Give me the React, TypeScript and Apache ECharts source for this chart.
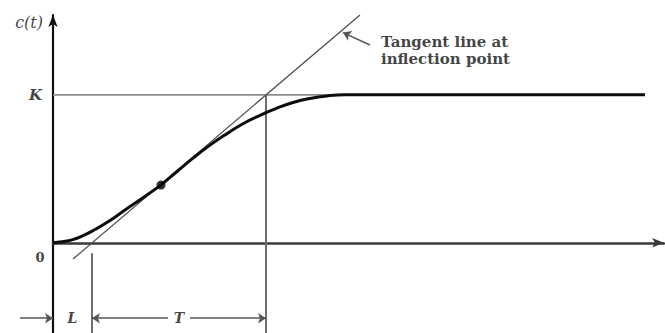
import React, { useEffect, useRef } from "react";
import * as echarts from "echarts";

// Step response c(t) of a process with an S-shaped reaction curve
const K = 1;
const L = 3.9; // dead time
const T = 17.4; // time constant

const timeValues = [0, 0.9, 1.9, 3.0, 4.2, 5.7, 7.2, 9.0, 10.7, 12.4, 14.0, 15.7, 17.4, 19.0, 20.7, 22.4, 24.0, 25.7, 27.4, 29.2, 59.2];
const responseValues = [0, 0.007, 0.02, 0.048, 0.09, 0.15, 0.222, 0.305, 0.386, 0.482, 0.572, 0.66, 0.738, 0.805, 0.862, 0.91, 0.948, 0.976, 0.993, 1.0, 1.0];

const inflectionPoint = [10.8, 0.39];
const tangentStart = [2.0, -0.11];
const tangentEnd = [30.7, 1.54];

const X_MIN = 0;
const X_MAX = 61.1;
const Y_MIN = -0.61;
const Y_MAX = 1.54;
const DIM_Y = -0.51; // level of the L / T dimension row

const SERIF = "DejaVu Serif";

export default function App() {
  const ref = useRef<HTMLDivElement>(null);

  useEffect(() => {
    document.body.style.margin = "0";
    if (!ref.current) return;
    const chart = echarts.init(ref.current, null, { renderer: "svg" });

    const curve = timeValues.map((t, i) => [t, responseValues[i]]);
    const tMid = L + T / 2;

    const textItem = (value: number[], text: string, label: any) => ({
      value,
      label: { show: true, formatter: text, color: "#111", fontFamily: SERIF, ...label },
    });

    chart.setOption({
      animation: false,
      backgroundColor: "#ffffff",
      textStyle: { fontFamily: SERIF },
      grid: { left: 53, top: 15, width: 611, height: 318 },
      xAxis: {
        type: "value",
        min: X_MIN,
        max: X_MAX,
        axisLine: {
          show: true,
          onZero: true,
          symbol: ["none", "arrow"],
          symbolSize: [7, 12],
          lineStyle: { color: "#3a3a3a", width: 2.5 },
        },
        axisTick: { show: false },
        axisLabel: { show: false },
        splitLine: { show: false },
      },
      yAxis: {
        type: "value",
        min: Y_MIN,
        max: Y_MAX,
        axisLine: {
          show: true,
          onZero: true,
          symbol: ["none", "arrow"],
          symbolSize: [7, 12],
          lineStyle: { color: "#111", width: 2.2 },
        },
        axisTick: { show: false },
        axisLabel: { show: false },
        splitLine: { show: false },
      },
      series: [
        {
          name: "K level",
          type: "line",
          data: [
            [0, K],
            [timeValues[timeValues.length - 1], K],
          ],
          symbol: "none",
          lineStyle: { color: "#8c8c8c", width: 1.6 },
          z: 1,
        },
        {
          name: "guides",
          type: "lines",
          coordinateSystem: "cartesian2d",
          clip: false,
          symbol: "none",
          lineStyle: { color: "#6e6e6e", width: 2, opacity: 1 },
          data: [
            { coords: [[L, -0.07], [L, Y_MIN]] },
            { coords: [[L + T, K], [L + T, Y_MIN]] },
          ],
          z: 1,
        },
        {
          name: "tangent",
          type: "line",
          data: [tangentStart, tangentEnd],
          symbol: "none",
          lineStyle: { color: "#4a4a4a", width: 1.2 },
          z: 2,
        },
        {
          name: "c(t)",
          type: "line",
          data: curve,
          smooth: 0.5,
          symbol: "none",
          lineStyle: { color: "#0d0d0d", width: 3 },
          z: 3,
        },
        {
          name: "inflection",
          type: "scatter",
          data: [inflectionPoint],
          symbol: "circle",
          symbolSize: 9,
          itemStyle: { color: "#000" },
          z: 4,
        },
        {
          name: "dimension arrows",
          type: "lines",
          coordinateSystem: "cartesian2d",
          clip: false,
          symbol: ["none", "arrow"],
          symbolSize: 8,
          lineStyle: { color: "#555", width: 1.5, opacity: 1 },
          itemStyle: { color: "#111" },
          data: [
            { coords: [[-3.3, DIM_Y], [0, DIM_Y]] },
            { coords: [[tMid - 1.1, DIM_Y], [L, DIM_Y]] },
            { coords: [[tMid + 1.1, DIM_Y], [L + T, DIM_Y]] },
            { coords: [[31.7, 1.337], [29.0, 1.421]] },
          ],
          z: 4,
        },
        {
          name: "labels",
          type: "scatter",
          symbolSize: 0,
          clip: false,
          silent: true,
          data: [
            textItem([0, 1.49], "c(t)", {
              position: "left",
              distance: 10,
              fontStyle: "italic",
              fontSize: 16,
            }),
            textItem([0, K], "K", {
              position: "left",
              distance: 11,
              fontStyle: "italic",
              fontWeight: "bold",
              fontSize: 15,
            }),
            textItem([0, 0], "0", {
              position: [-13, 15],
              align: "center",
              verticalAlign: "middle",
              fontWeight: "bold",
              fontSize: 13,
            }),
            textItem([L / 2, DIM_Y], "L", {
              position: "inside",
              fontStyle: "italic",
              fontWeight: "bold",
              fontSize: 14,
            }),
            textItem([tMid, DIM_Y], "T", {
              position: "inside",
              fontStyle: "italic",
              fontWeight: "bold",
              fontSize: 14,
            }),
            textItem([32.8, 1.412], "Tangent line at\ninflection point", {
              position: [0, 0],
              align: "left",
              verticalAlign: "top",
              fontWeight: "bold",
              fontSize: 15,
              lineHeight: 17,
            }),
          ],
          z: 5,
        },
      ],
    });

    return () => chart.dispose();
  }, []);

  return <div ref={ref} style={{ width: 665, height: 333 }} />;
}
